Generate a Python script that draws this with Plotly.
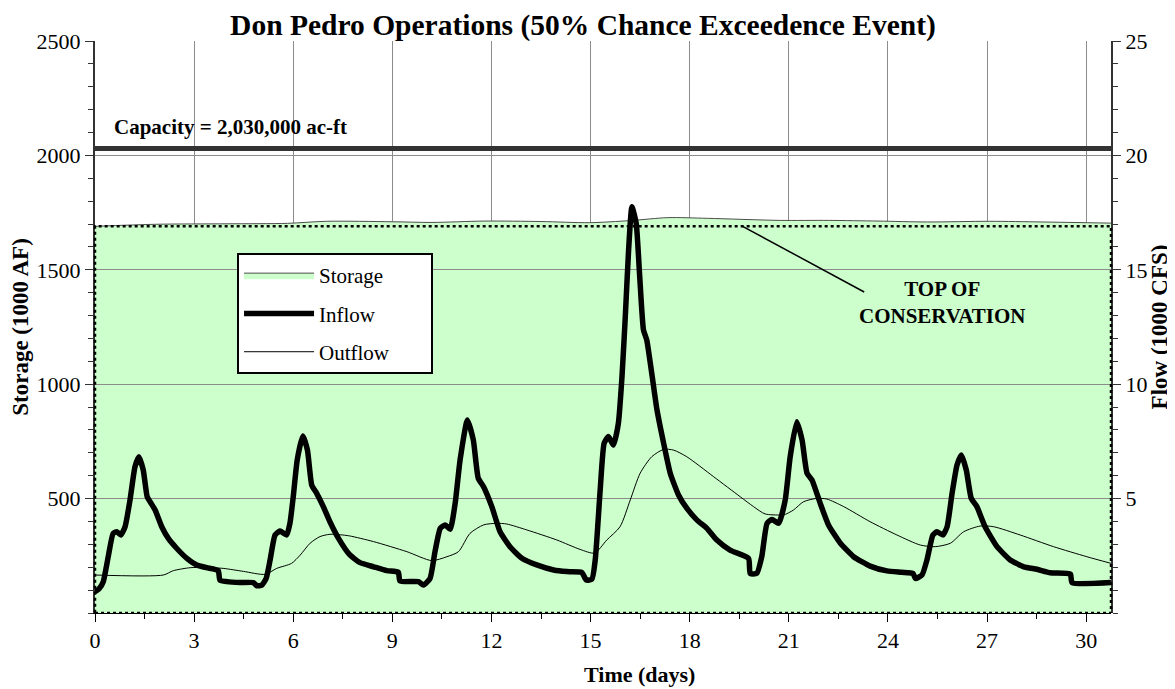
import plotly.graph_objects as go

# ---------------- data ----------------
storage_days = [0.00, 1.85, 4.0, 5.82, 7.01, 9.00, 10.2, 11.78, 13.5, 14.96, 16.2, 17.34,
                18.53, 20.71, 22.2, 23.7, 25.2, 27.07, 28.66, 30.75]
storage_kaf = [1690, 1699, 1701, 1703, 1712, 1710, 1707, 1713, 1711, 1706, 1715, 1728,
               1725, 1716, 1716, 1713, 1709, 1712, 1709, 1704]

inflow_days = [0.00, 0.12, 0.25, 0.40, 0.55, 0.66, 0.78, 0.91, 1.06, 1.21, 1.33, 1.46, 1.58, 1.67,
               1.82, 2.02, 2.22, 2.47, 2.78, 3.08, 3.38, 3.73, 3.78, 3.99, 4.39, 4.79, 4.90, 5.05,
               5.18, 5.30, 5.45, 5.60, 5.80, 5.90, 6.00, 6.12, 6.29, 6.43, 6.56, 6.71, 6.91, 7.11,
               7.37, 7.70, 8.02, 8.43, 8.83, 9.18, 9.23, 9.79, 9.94, 10.14, 10.29, 10.45, 10.60,
               10.75, 10.90, 11.05, 11.27, 11.45, 11.60, 11.76, 12.01, 12.26, 12.56, 12.92, 13.37,
               13.88, 14.28, 14.73, 14.87, 15.04, 15.14, 15.29, 15.41, 15.54, 15.69, 15.84, 15.95,
               16.05, 16.15, 16.25, 16.38, 16.48, 16.60, 16.70, 16.85, 17.01, 17.21, 17.41, 17.66,
               17.91, 18.22, 18.52, 18.82, 19.22, 19.78, 19.83, 20.03, 20.18, 20.34, 20.49, 20.69,
               20.89, 21.04, 21.24, 21.40, 21.55, 21.70, 21.95, 22.20, 22.56, 22.96, 23.46, 23.97,
               24.42, 24.76, 24.83, 25.03, 25.18, 25.36, 25.48, 25.66, 25.79, 25.94, 26.09, 26.22,
               26.37, 26.52, 26.69, 26.94, 27.30, 27.70, 28.11, 28.51, 28.91, 29.52, 29.57, 30.75]
inflow_kcfs = [0.93, 1.05, 1.37, 2.46, 3.48, 3.55, 3.41, 3.77, 4.94, 6.39, 6.83, 6.25, 5.08, 4.86,
               4.50, 3.77, 3.26, 2.83, 2.39, 2.10, 1.98, 1.85, 1.44, 1.37, 1.33, 1.33, 1.19, 1.22,
               1.51, 2.32, 3.41, 3.58, 3.41, 3.92, 5.08, 6.69, 7.74, 7.12, 5.59, 5.23, 4.65, 3.99,
               3.26, 2.56, 2.20, 2.02, 1.85, 1.78, 1.40, 1.37, 1.22, 1.51, 2.68, 3.70, 3.85,
               3.66, 4.79, 6.69, 8.44, 7.56, 5.89, 5.52, 4.65, 3.55, 2.90, 2.39, 2.10,
               1.88, 1.81, 1.78, 1.44, 1.48, 2.32, 5.38, 7.42, 7.71, 7.34, 8.29, 10.33,
               12.95, 15.87, 17.76, 17.03, 14.85, 12.37, 11.93, 10.48, 8.87, 7.42, 6.11, 5.16,
               4.58, 4.06, 3.70, 3.19, 2.75, 2.39, 1.73, 1.73, 2.46, 3.92, 4.09, 3.92,
               4.94, 6.83, 8.36, 7.56, 6.11, 5.81, 4.79, 3.85, 3.05, 2.46, 2.05, 1.84,
               1.78, 1.73, 1.51, 1.66, 2.32, 3.41, 3.55, 3.41, 3.77, 5.23, 6.47, 6.91,
               6.25, 5.01, 4.65, 3.77, 2.90, 2.32, 2.02, 1.91, 1.76, 1.70, 1.33, 1.33]

outflow_days = [0.00, 2.07, 2.37, 2.88, 3.28, 3.88, 4.49, 5.15, 5.50, 5.95, 6.21, 6.51, 6.81, 7.11,
                7.42, 7.70, 8.43, 9.44, 10.19, 10.65, 11.00, 11.35, 11.76, 12.16, 12.46, 13.07,
                13.98, 14.68, 15.12, 15.49, 15.89, 16.20, 16.50, 16.85, 17.21, 17.51, 17.91, 18.72,
                19.53, 19.93, 20.28, 20.74, 20.84, 21.14, 21.44, 21.85, 22.15, 22.66, 23.46, 24.27,
                24.98, 25.43, 25.89, 26.29, 26.79, 27.20, 28.00, 29.01, 30.02, 30.75]
outflow_kcfs = [1.66, 1.66, 1.85, 1.98, 1.99, 1.95, 1.82, 1.69, 1.95, 2.17, 2.53, 3.05, 3.34, 3.44,
                3.42, 3.37, 3.12, 2.68, 2.29, 2.46, 2.68, 3.48, 3.85, 3.92, 3.89, 3.63,
                3.19, 2.78, 2.62, 3.19, 3.77, 4.94, 6.11, 6.83, 7.15, 7.12, 6.83, 5.96,
                5.08, 4.65, 4.33, 4.28, 4.28, 4.50, 4.86, 5.01, 4.98, 4.65, 3.99, 3.41,
                2.97, 2.90, 3.05, 3.55, 3.80, 3.77, 3.41, 2.90, 2.46, 2.17]

capacity_kaf = 2030
top_of_conservation_kaf = 1690
x_ticks = [0, 3, 6, 9, 12, 15, 18, 21, 24, 27, 30]
storage_ticks = [500, 1000, 1500, 2000, 2500]
flow_ticks = [5, 10, 15, 20, 25]
x_max = 30.75

FONT = "Times New Roman, Liberation Serif, serif"
GRID = "#8c8c8c"
PAD = "&nbsp;" * 7

fig = go.Figure()
fig.add_trace(go.Scatter(
    x=storage_days, y=storage_kaf, name="Storage" + PAD, mode="lines",
    fill="tozeroy", fillcolor="#CCFFCC",
    line=dict(color="#4d4d4d", width=1, shape="spline", smoothing=0.8),
    xaxis="x", yaxis="y", legendgroup="s"))
fig.add_trace(go.Scatter(
    x=inflow_days, y=inflow_kcfs, name="Inflow" + PAD, mode="lines",
    line=dict(color="black", width=5.5, shape="spline", smoothing=0.5),
    xaxis="x2", yaxis="y2", legendgroup="i"))
fig.add_trace(go.Scatter(
    x=outflow_days, y=outflow_kcfs, name="Outflow" + PAD, mode="lines",
    line=dict(color="black", width=1, shape="spline", smoothing=0.7),
    xaxis="x2", yaxis="y2", legendgroup="o"))

tickfont = dict(family=FONT, size=22, color="black")
titlefont = dict(family=FONT, size=23, color="black")

# the page adds an 8px body margin, so the figure is sized/offset to compensate
fig.update_layout(
    width=1167, height=681,
    margin=dict(l=87, r=64, t=33, b=76),
    paper_bgcolor="white", plot_bgcolor="rgba(0,0,0,0)",
    font=dict(family=FONT, color="black"),
    title=dict(text="<b>Don Pedro Operations (50% Chance Exceedence Event)</b>",
               font=dict(family=FONT, size=29.5, color="black"),
               x=0.4927, xanchor="center", y=0.975, yanchor="middle"),
    xaxis=dict(domain=[0, 1], anchor="y", range=[0, x_max], tickmode="array", tickvals=x_ticks,
               ticks="outside", ticklen=8, tickcolor="black", tickfont=tickfont, automargin=False,
               minor=dict(dtick=1.5, tick0=0, ticks="outside", ticklen=5, tickcolor="black", showgrid=False),
               showgrid=True, gridcolor=GRID, gridwidth=1, zeroline=False,
               showline=True, linecolor="black", linewidth=1),
    yaxis=dict(anchor="x", range=[0, 2500], tickmode="array", tickvals=storage_ticks,
               ticks="outside", ticklen=8, tickcolor="#333", tickfont=tickfont, automargin=False,
               minor=dict(dtick=100, tick0=0, ticks="outside", ticklen=5, tickcolor="#333", showgrid=False),
               showgrid=False, zeroline=False, showline=True, linecolor="#333", linewidth=2,
               title=dict(text="<b>Storage (1000 AF)</b>", font=titlefont, standoff=4)),
    xaxis2=dict(domain=[0, 1], anchor="y2", range=[0, x_max], visible=False),
    yaxis2=dict(anchor="x2", side="right", range=[0, 25], tickmode="array", tickvals=flow_ticks,
                ticks="outside", ticklen=8, tickcolor="#333", tickfont=tickfont, automargin=False,
                minor=dict(dtick=1, tick0=0, ticks="outside", ticklen=5, tickcolor="#333", showgrid=False),
                showgrid=True, gridcolor=GRID, gridwidth=1, zeroline=False,
                showline=True, linecolor="#333", linewidth=2,
                title=dict(text="<b>Flow (1000 CFS)</b>", font=titlefont, standoff=0)),
    legend=dict(x=0.1398, y=0.6294, xanchor="left", yanchor="top",
                bgcolor="white", bordercolor="black", borderwidth=2,
                font=dict(family=FONT, size=21, color="black"),
                itemwidth=70, traceorder="grouped", tracegroupgap=8),
    showlegend=True,
)

fig.add_shape(type="line", xref="x domain", yref="y", x0=0, x1=1,
              y0=capacity_kaf, y1=capacity_kaf, line=dict(color="#333333", width=5), layer="above")
fig.add_shape(type="rect", xref="x domain", yref="y", x0=0, x1=1, y0=0,
              y1=top_of_conservation_kaf, line=dict(color="black", width=2.5, dash="dot"),
              fillcolor="rgba(0,0,0,0)", layer="above")
fig.add_shape(type="line", xref="x", yref="y", x0=19.6, y0=top_of_conservation_kaf,
              x1=23.28, y1=1403, line=dict(color="black", width=1.5), layer="above")

fig.add_annotation(x=0.5, y=2124, xref="x", yref="y", xanchor="left", yanchor="middle",
                   text="<b>Capacity = 2,030,000 ac-ft</b>", showarrow=False,
                   font=dict(family=FONT, size=21, color="black"))
fig.add_annotation(x=25.64, y=1359, xref="x", yref="y", xanchor="center", yanchor="middle",
                   text="<b>TOP OF<br>CONSERVATION</b>", showarrow=False, align="center",
                   font=dict(family=FONT, size=21, color="black"))
# x-axis title (placed as in the reference, right of the axis centre)
fig.add_annotation(x=0.5364, y=-0.107, xref="paper", yref="paper", xanchor="center", yanchor="middle",
                   text="<b>Time (days)</b>", showarrow=False,
                   font=dict(family=FONT, size=22, color="black"))

fig.write_html("out.html")
